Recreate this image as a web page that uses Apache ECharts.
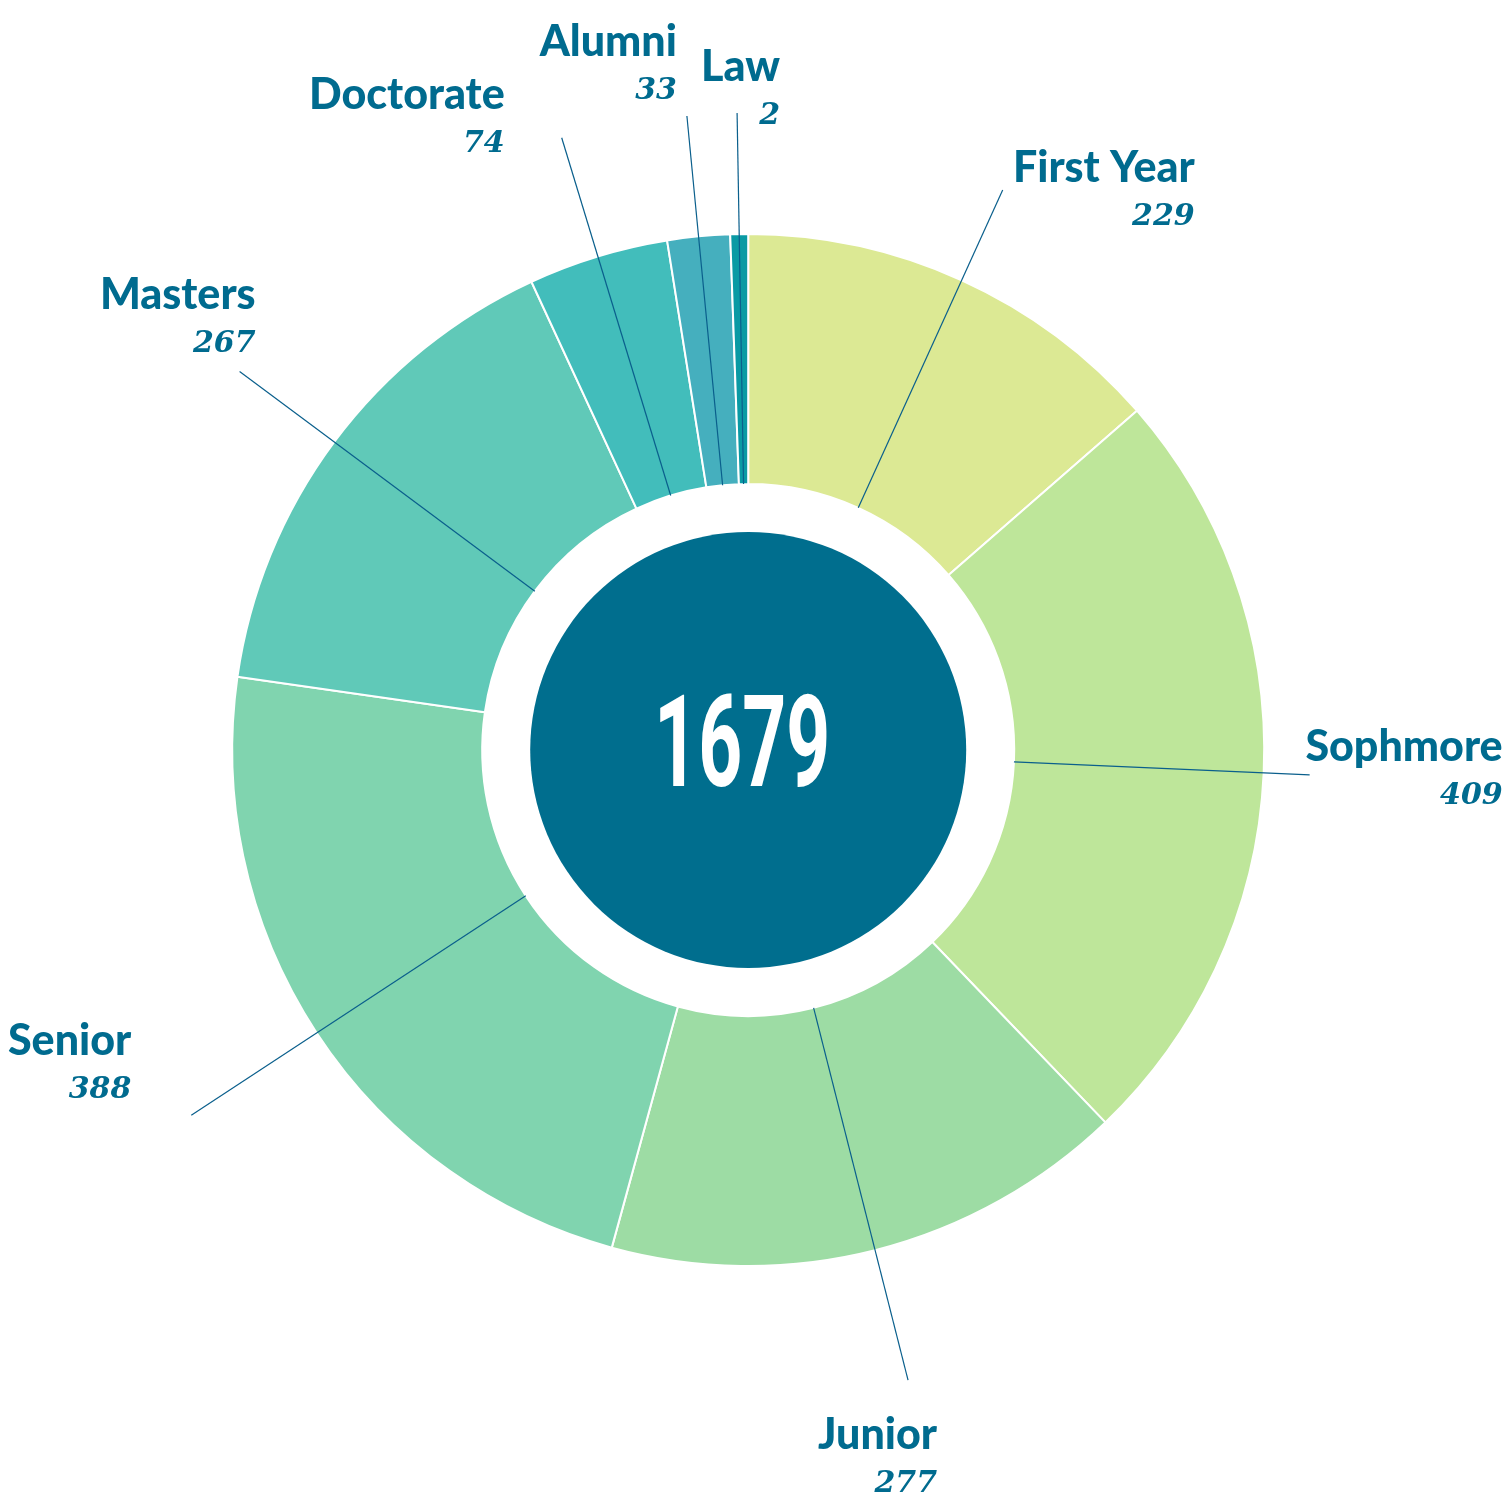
<!DOCTYPE html>
<html>
<head>
<meta charset="utf-8">
<title>Students by level</title>
<script src="https://cdn.jsdelivr.net/npm/echarts@6/dist/echarts.min.js"></script>
<style>
html, body { margin: 0; padding: 0; background: #fff; }
#chart { width: 1510px; height: 1497px; }
</style>
</head>
<body>
<div id="chart"></div>
<script>
// data
const categories = ['First Year', 'Sophmore', 'Junior', 'Senior', 'Masters', 'Doctorate', 'Alumni', 'Law'];
const counts = [229, 409, 277, 388, 267, 74, 33, 2];
const sliceColors = ['#dce994', '#bee69a', '#9ddca4', '#80d4af', '#60c9b8', '#42bdbb', '#45afbe', '#0a9aa4'];

// leader line length outside the inner edge of the ring
const leaderLength = [349, 296, 384, 400, 368, 374, 371, 371];
// top-right corner of each label block, relative to the end of its leader
const labelShift = [[192, -52], [193, -58], [29, 25], [-60, -104], [16, -106], [-57, -73], [-10, -104], [43, -76]];

const total = counts.reduce((a, b) => a + b, 0);
const ink = '#006b8f';
const center = ['49.55%', '50.1%'];

const chart = echarts.init(document.getElementById('chart'));

const option = {
    animation: false,
    series: [
        {
            // the ring
            type: 'pie',
            silent: true,
            z: 2,
            center: center,
            radius: [266, 516],
            startAngle: 90,
            minAngle: 2,
            label: { show: false },
            labelLine: { show: false },
            itemStyle: { borderColor: '#fff', borderWidth: 2 },
            data: categories.map((c, i) => ({ name: c, value: counts[i], itemStyle: { color: sliceColors[i] } }))
        },
        {
            // invisible copy, only there for the leader lines and labels
            type: 'pie',
            silent: true,
            z: 3,
            center: center,
            radius: [0, 266],
            startAngle: 90,
            minAngle: 2,
            avoidLabelOverlap: false,
            itemStyle: { color: 'rgba(0,0,0,0)', borderWidth: 0 },
            label: {
                show: true,
                position: 'outside',
                formatter: p => '{n|' + p.name + '}\n{v|' + p.value + '}',
                rich: {
                    n: { fontFamily: 'Lato, Roboto, sans-serif', fontWeight: 900, fontSize: 43, lineHeight: 60, color: ink, align: 'right' },
                    v: { fontFamily: '"DejaVu Serif", serif', fontStyle: 'italic', fontWeight: 'bold', fontSize: 30, lineHeight: 38, color: ink, align: 'right' }
                }
            },
            labelLine: {
                show: true,
                length2: 0,
                smooth: false,
                lineStyle: { color: '#0a5f8c', width: 1.2 }
            },
            labelLayout: function (p) {
                const pts = p.labelLinePoints;
                if (!pts) return {};
                const end = pts[pts.length - 1];
                const s = labelShift[p.dataIndex];
                return { x: end[0] + s[0], y: end[1] + s[1], align: 'right', verticalAlign: 'top', labelLinePoints: pts };
            },
            data: categories.map((c, i) => ({ name: c, value: counts[i], labelLine: { length: leaderLength[i] } }))
        },
        {
            // the dark disc
            type: 'pie',
            silent: true,
            z: 2,
            center: center,
            radius: [0, 218],
            label: { show: false },
            labelLine: { show: false },
            itemStyle: { color: '#006e8e' },
            data: [{ name: 'Total', value: total }]
        }
    ],
    graphic: [
        {
            // total in the middle, squeezed to look like a condensed face
            type: 'text',
            x: chart.getWidth() * parseFloat(center[0]) / 100 - 6,
            y: chart.getHeight() * parseFloat(center[1]) / 100 + 4,
            scaleX: 0.6,
            z: 10,
            style: {
                text: String(total),
                fill: '#fff',
                fontFamily: 'Roboto, sans-serif',
                fontWeight: 'bold',
                fontSize: 128,
                align: 'center',
                verticalAlign: 'middle'
            }
        }
    ]
};

chart.setOption(option);
</script>
</body>
</html>
